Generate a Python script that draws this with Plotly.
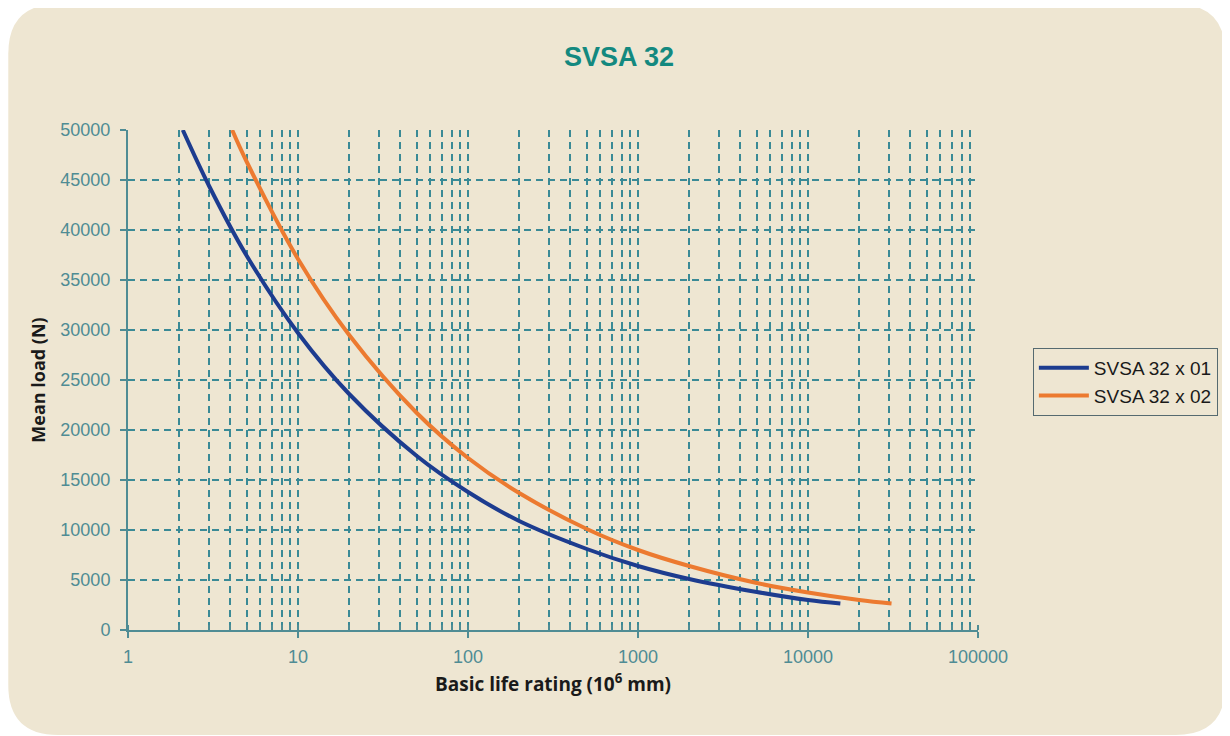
import plotly.graph_objects as go

# Data
life_x01 = [2.1, 3, 5, 10, 20, 50, 100, 200, 500, 1000, 2000, 5000, 10000, 15500]
load_x01 = [50000, 44400, 37400, 29700, 23600, 17400, 13800, 10900, 8100, 6400, 5100, 3800, 3000, 2650]

life_x02 = [4.1, 5, 10, 20, 50, 100, 200, 500, 1000, 2000, 5000, 10000, 20000, 31000]
load_x02 = [50000, 46800, 37100, 29500, 21700, 17200, 13700, 10100, 8000, 6400, 4700, 3750, 3000, 2650]

x_tickvals = [1, 10, 100, 1000, 10000, 100000]
x_ticktext = ["1", "10", "100", "1000", "10000", "100000"]
y_tickvals = list(range(0, 50001, 5000))
y_ticktext = [str(v) for v in y_tickvals]

TEAL = "#4F8C94"
GRID = "#3A8A96"
BEIGE = "#EEE6D2"

# page has an 8px body margin; work in figure pixels (page - 8)
FW, FH = 1222, 728
L, R, T, B = 120, 972, 122, 622
W, H = R - L, B - T
def px(xp):
    return (xp - L) / W
def py(yp):
    return (B - yp) / H

fig = go.Figure()
fig.add_trace(go.Scatter(x=life_x01, y=load_x01, mode="lines", name="SVSA 32 x 01",
                         line=dict(color="#1D3C8F", width=4, shape="spline")))
fig.add_trace(go.Scatter(x=life_x02, y=load_x02, mode="lines", name="SVSA 32 x 02",
                         line=dict(color="#EC7A30", width=4, shape="spline")))

x0, x1, y0, y1, r = 0, 1220, -4, 727, 50
path = (f"M {px(x0+r)},{py(y0)} L {px(x1-r)},{py(y0)} Q {px(x1)},{py(y0)} {px(x1)},{py(y0+r)} "
        f"L {px(x1)},{py(y1-r)} Q {px(x1)},{py(y1)} {px(x1-r)},{py(y1)} "
        f"L {px(x0+r)},{py(y1)} Q {px(x0)},{py(y1)} {px(x0)},{py(y1-r)} "
        f"L {px(x0)},{py(y0+r)} Q {px(x0)},{py(y0)} {px(x0+r)},{py(y0)} Z")

fig.update_layout(
    width=FW, height=FH,
    margin=dict(l=L, r=FW - R, t=T, b=FH - B),
    paper_bgcolor="white",
    plot_bgcolor="rgba(0,0,0,0)",
    shapes=[dict(type="path", path=path, xref="paper", yref="paper",
                 fillcolor=BEIGE, line=dict(width=0), layer="below")],
    title=dict(text="<b>SVSA 32</b>", x=0.5, xanchor="center", y=1 - 49 / FH, yanchor="middle",
               font=dict(family="Liberation Sans, Arial", size=27, color="#13897F")),
    xaxis=dict(
        type="log", range=[0, 5],
        tickvals=x_tickvals, ticktext=x_ticktext,
        showline=True, linecolor=TEAL, linewidth=2,
        ticks="outside", ticklen=6, tickcolor=TEAL, tickwidth=2,
        showgrid=True, gridcolor=GRID, gridwidth=2, griddash="7px,5px",
        tickfont=dict(family="Liberation Sans, Arial", size=18, color=TEAL),
        ticklabelstandoff=3,
        minor=dict(dtick="D1", showgrid=True, gridcolor=GRID, gridwidth=2, griddash="7px,5px",
                   ticks="inside", ticklen=5, tickcolor=TEAL, tickwidth=1.5),
        title=dict(text="<b>Basic life rating (10<sup>6</sup> mm)</b>", standoff=12,
                   font=dict(family="Open Sans", size=19, color="#1a1a1a")),
        zeroline=False,
    ),
    yaxis=dict(
        range=[0, 50000], tickvals=y_tickvals, ticktext=y_ticktext,
        showline=True, linecolor=TEAL, linewidth=2,
        ticks="outside", ticklen=6, tickcolor=TEAL, tickwidth=2,
        showgrid=True, gridcolor=GRID, gridwidth=2, griddash="7px,5px",
        tickfont=dict(family="Liberation Sans, Arial", size=18, color=TEAL),
        ticklabelstandoff=6,
        title=dict(text="<b>Mean load (N)</b>", standoff=10,
                   font=dict(family="Open Sans", size=18, color="#1a1a1a")),
        zeroline=False,
    ),
    legend=dict(x=px(1027), y=py(340), xanchor="left", yanchor="top",
                bgcolor="rgba(0,0,0,0)", bordercolor="#556a70", borderwidth=1,
                font=dict(family="Liberation Sans, Arial", size=19, color="#1a1a1a"),
                tracegroupgap=0, itemwidth=50),
    showlegend=True,
)

fig.write_html("out.html")
